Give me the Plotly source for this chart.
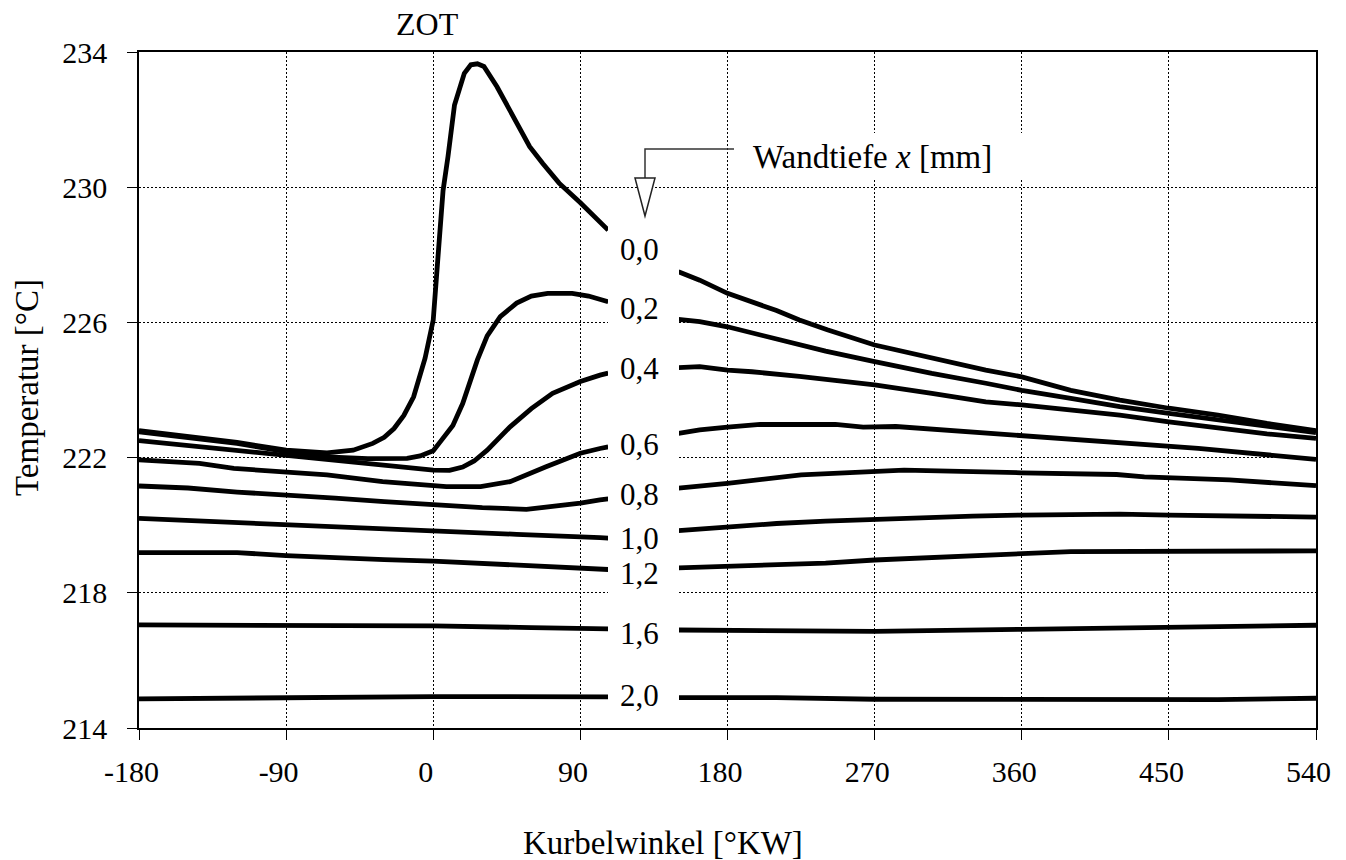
import plotly.graph_objects as go

# ---------------- data (crank angle [°KW] -> temperature [°C]) ----------------
# each series: left part (up to ~107°) and right part (from ~150°), gap for the label column
x_00 = [-180, -150, -120, -90, -65, -49, -37, -30, -24, -18, -12, -5, 0, 3, 6, 9, 13, 19, 23, 27, 31, 39, 51, 59, 67, 77, 90, 107,
        None, 150, 163, 180, 210, 224, 241, 270, 305, 338, 360, 390, 420, 450, 480, 510, 540]
t_00 = [222.80, 222.62, 222.45, 222.22, 222.14, 222.22, 222.42, 222.60, 222.86, 223.25, 223.80, 224.94, 226.07, 228.0, 229.9, 230.9, 232.43, 233.37, 233.62, 233.65, 233.57, 232.97, 231.89, 231.20, 230.70, 230.12, 229.54, 228.73,
        None, 227.50, 227.25, 226.86, 226.35, 226.07, 225.78, 225.33, 224.94, 224.59, 224.39, 223.99, 223.70, 223.46, 223.26, 223.01, 222.80]

x_02 = [-180, -150, -120, -90, -65, -40, -16, -8, 0, 4, 8, 12, 18, 27, 33, 41, 51, 60, 70, 85, 95, 107,
        None, 150, 163, 180, 210, 240, 270, 305, 338, 360, 390, 420, 450, 480, 510, 540]
t_02 = [222.76, 222.58, 222.42, 222.18, 222.02, 221.97, 221.98, 222.05, 222.20, 222.45, 222.70, 222.95, 223.60, 224.89, 225.60, 226.17, 226.57, 226.78, 226.86, 226.86, 226.78, 226.61,
        None, 226.09, 226.02, 225.87, 225.50, 225.15, 224.84, 224.49, 224.20, 223.99, 223.75, 223.51, 223.31, 223.11, 222.91, 222.74]

x_04 = [-180, -150, -120, -90, -60, -30, 0, 10, 18, 25, 33, 47, 60, 73, 90, 102, 107,
        None, 150, 163, 180, 195, 224, 270, 305, 338, 360, 390, 420, 450, 480, 510, 540]
t_04 = [222.50, 222.35, 222.20, 222.05, 221.90, 221.75, 221.63, 221.62, 221.72, 221.90, 222.22, 222.91, 223.45, 223.90, 224.25, 224.44, 224.50,
        None, 224.66, 224.69, 224.59, 224.54, 224.40, 224.15, 223.90, 223.65, 223.56, 223.41, 223.26, 223.06, 222.87, 222.70, 222.57]

x_06 = [-180, -143, -122, -90, -65, -31, 0, 8, 29, 47, 69, 90, 102, 107,
        None, 150, 163, 180, 200, 246, 263, 283, 306, 360, 420, 450, 468, 540]
t_06 = [221.93, 221.83, 221.68, 221.58, 221.49, 221.29, 221.19, 221.14, 221.14, 221.29, 221.73, 222.13, 222.27, 222.32,
        None, 222.72, 222.82, 222.90, 222.98, 222.98, 222.90, 222.92, 222.84, 222.67, 222.47, 222.34, 222.27, 221.95]

x_08 = [-180, -150, -120, -90, -60, -30, 0, 30, 57, 75, 90, 102, 107,
        None, 150, 180, 225, 270, 288, 360, 418, 435, 450, 487, 540]
t_08 = [221.16, 221.10, 220.98, 220.90, 220.80, 220.70, 220.60, 220.52, 220.47, 220.55, 220.65, 220.75, 220.78,
        None, 221.10, 221.24, 221.49, 221.58, 221.63, 221.55, 221.50, 221.43, 221.41, 221.34, 221.17]

x_10 = [-180, -90, 0, 51, 102, 107,
        None, 150, 180, 210, 240, 270, 300, 330, 360, 390, 420, 450, 480, 540]
t_10 = [220.20, 220.03, 219.86, 219.73, 219.63, 219.62,
        None, 219.84, 219.96, 220.05, 220.12, 220.18, 220.22, 220.27, 220.30, 220.33, 220.33, 220.30, 220.27, 220.24]

x_12 = [-180, -150, -120, -90, -60, -30, 0, 30, 51, 73, 90, 102, 107,
        None, 150, 180, 210, 240, 270, 300, 330, 360, 390, 540]
t_12 = [219.19, 219.19, 219.19, 219.10, 219.03, 218.98, 218.94, 218.87, 218.82, 218.79, 218.74, 218.69, 218.69,
        None, 218.74, 218.79, 218.82, 218.88, 218.97, 219.03, 219.12, 219.18, 219.22, 219.24]

x_16 = [-180, -90, 0, 60, 107,
        None, 150, 210, 270, 360, 450, 540]
t_16 = [217.05, 217.05, 217.02, 216.97, 216.93,
        None, 216.90, 216.88, 216.86, 216.92, 216.98, 217.04]

x_20 = [-180, -90, -45, 0, 107,
        None, 150, 210, 270, 360, 480, 540]
t_20 = [214.86, 214.90, 214.93, 214.93, 214.92,
        None, 214.90, 214.90, 214.85, 214.84, 214.84, 214.88]

depth_labels = ["0,0", "0,2", "0,4", "0,6", "0,8", "1,0", "1,2", "1,6", "2,0"]
label_temps = [228.2, 226.43, 224.68, 222.43, 220.95, 219.65, 218.59, 216.84, 214.98]
label_angle = 126

x_ticks = [-180, -90, 0, 90, 180, 270, 360, 450, 540]
x_ticktext = ["-180", "-90", "0", "90", "180", "270", "360", "450", "540"]
y_ticks = [214, 218, 222, 226, 230, 234]

series = [(x_00, t_00), (x_02, t_02), (x_04, t_04), (x_06, t_06), (x_08, t_08),
          (x_10, t_10), (x_12, t_12), (x_16, t_16), (x_20, t_20)]

# ---------------- figure ----------------
FONT = "Liberation Serif"
W, H = 1346, 860
L, R, T, B = 139, 30, 52, 132
PW, PH = W - L - R, H - T - B


def px(xp):
    return (xp - L) / PW


def py(yp):
    return (H - B - yp) / PH


fig = go.Figure()
for xs, ts in series:
    fig.add_trace(go.Scatter(x=xs, y=ts, mode="lines", connectgaps=False,
                             line=dict(color="black", width=4.8), showlegend=False,
                             hoverinfo="skip"))

fig.update_layout(
    width=W, height=H,
    margin=dict(l=L, r=R, t=T, b=B, autoexpand=False),
    plot_bgcolor="white", paper_bgcolor="white",
    font=dict(family=FONT, size=30, color="black"),
    showlegend=False,
)
fig.update_xaxes(range=[-180, 540], tickvals=x_ticks,
                 ticktext=[t + "\u00a0\u00a0" for t in x_ticktext], automargin=False,
                 showgrid=True, gridcolor="black", griddash="2px,2px", gridwidth=1,
                 zeroline=False, showline=True, linecolor="black", linewidth=1.5, mirror=True,
                 ticks="outside", ticklen=10, tickcolor="black", tickwidth=1,
                 ticklabelstandoff=6, tickfont=dict(family=FONT, size=30))
fig.update_yaxes(range=[214, 234], tickvals=y_ticks, automargin=False,
                 showgrid=True, gridcolor="black", griddash="2px,2px", gridwidth=1,
                 zeroline=False, showline=True, linecolor="black", linewidth=1.5, mirror=True,
                 ticks="outside", ticklen=10, tickcolor="black", tickwidth=1,
                 ticklabelstandoff=14, tickfont=dict(family=FONT, size=30))

shapes = []
# white column behind the depth labels
shapes.append(dict(type="rect", xref="paper", yref="paper", layer="above",
                   x0=px(608), x1=px(679), y0=py(716), y1=py(222),
                   fillcolor="white", line=dict(width=0)))
# white box behind the "Wandtiefe" caption
shapes.append(dict(type="rect", xref="paper", yref="paper", layer="above",
                   x0=px(734), x1=px(1030), y0=py(178), y1=py(133),
                   fillcolor="white", line=dict(width=0)))
# connector line
shapes.append(dict(type="path", xref="paper", yref="paper", layer="above",
                   path=f"M {px(734)},{py(149)} L {px(645)},{py(149)} L {px(645)},{py(178)}",
                   line=dict(color="#333333", width=1.5)))
# arrow head (open triangle)
shapes.append(dict(type="path", xref="paper", yref="paper", layer="above",
                   path=f"M {px(635)},{py(178)} L {px(655)},{py(178)} L {px(645)},{py(216)} Z",
                   fillcolor="white", line=dict(color="#222222", width=1.5)))
fig.update_layout(shapes=shapes)

ann = []
for lab, tv in zip(depth_labels, label_temps):
    ann.append(dict(x=label_angle, y=tv, xref="x", yref="y", text=lab, showarrow=False,
                    font=dict(family=FONT, size=31), xanchor="center", yanchor="middle", yshift=-1))
ann.append(dict(x=px(751), y=py(157), xref="paper", yref="paper", text="Wandtiefe <i>x</i> [mm]",
                showarrow=False, xanchor="left", yanchor="middle", font=dict(family=FONT, size=33)))
ann.append(dict(x=px(427), y=py(24), xref="paper", yref="paper", text="ZOT",
                showarrow=False, xanchor="center", yanchor="middle", font=dict(family=FONT, size=32)))
ann.append(dict(x=px(663), y=py(843), xref="paper", yref="paper", text="Kurbelwinkel [°KW]",
                showarrow=False, xanchor="center", yanchor="middle", font=dict(family=FONT, size=33)))
ann.append(dict(x=px(27), y=py(388), xref="paper", yref="paper", text="Temperatur [°C]", textangle=-90,
                showarrow=False, xanchor="center", yanchor="middle", font=dict(family=FONT, size=33)))
fig.update_layout(annotations=ann)

fig.write_html("out.html")
